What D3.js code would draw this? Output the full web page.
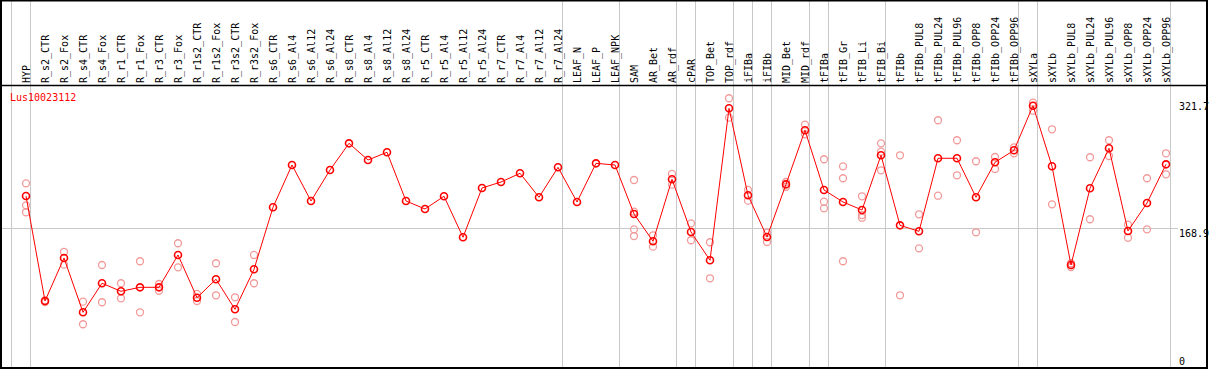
<!DOCTYPE html>
<html>
<head>
	<meta charset="utf-8">
	<title>Lus10023112</title>
	<script src="https://cdn.jsdelivr.net/npm/d3@7"></script>
	<style>
		body { margin: 0; background: #fff; }
		text { font-family: "DejaVu Sans Mono", monospace; font-size: 10px; }
	</style>
</head>
<body>
<div id="chart"></div>
<script type="text/javascript">
	let categories = ["HYP","R_s2_CTR","R_s2_Fox","R_s4_CTR","R_s4_Fox","R_r1_CTR","R_r1_Fox","R_r3_CTR","R_r3_Fox",
		"R_r1s2_CTR","R_r1s2_Fox","R_r3s2_CTR","R_r3s2_Fox","R_s6_CTR","R_s6_Al4","R_s6_Al12","R_s6_Al24",
		"R_s8_CTR","R_s8_Al4","R_s8_Al12","R_s8_Al24","R_r5_CTR","R_r5_Al4","R_r5_Al12","R_r5_Al24",
		"R_r7_CTR","R_r7_Al4","R_r7_Al12","R_r7_Al24","LEAF_N","LEAF_P","LEAF_NPK","SAM","AR_Bet","AR_rdf",
		"cPAR","TOP_Bet","TOP_rdf","iFIBa","iFIBb","MID_Bet","MID_rdf","tFIBa","tFIB_Gr","tFIB_Li","tFIB_Bi",
		"tFIBb","tFIBb_PUL8","tFIBb_PUL24","tFIBb_PUL96","tFIBb_OPP8","tFIBb_OPP24","tFIBb_OPP96",
		"sXYLa","sXYLb","sXYLb_PUL8","sXYLb_PUL24","sXYLb_PUL96","sXYLb_OPP8","sXYLb_OPP24","sXYLb_OPP96"];

	// mean per sample (the dark line)
	let means = [207.2,80.7,132.5,67.1,102.1,92.4,97.2,97.2,136.2,84.7,106.9,70.7,118.9,193.6,244.6,201.2,238.6,
		270.7,250.6,259.9,201.2,191.6,206.9,157.5,216.9,224.1,234.6,205.7,241.8,200.0,246.6,244.6,185.6,
		152.7,227.4,163.9,129.8,312.9,208.1,157.8,221.3,286.4,214.5,200.0,190.4,256.3,171.9,164.7,252.7,
		252.7,205.7,247.9,262.3,316.0,243.0,124.1,216.5,264.7,165.1,198.8,245.4];

	// single replicates (pale circles)
	let replicates = [[222.5,196.0,187.6],[81.3,79.5],[139.8,124.5],[79.9,52.7],[124.1,79.2],[102.1,84.0],
		[128.6,67.1],[101.2,93.1],[150.3,121.3],[89.2,80.7],[126.2,87.6],[85.2,55.4],[136.2,102.1],
		[],[],[],[],[],[],[],[],[],[],[],[],[],[],[],[],[],[],[],
		[226.5,188.3,167.1,159.0],[159.9,146.2],[233.8,220.9],[174.3,153.9],[151.5,108.1],[325.0,301.6],
		[214.5,201.6],[163.0,151.8],[224.1,218.4],[293.2,281.6],[251.5,200.4,192.4],[243.0,228.6,128.6],
		[206.9,184.3,181.1],[270.7,260.6,238.2],[256.3,87.6],[185.2,144.2],[298.5,207.6],[274.4,232.2],
		[249.1,163.5],[254.2,239.8],[265.9,258.7],[319.7,310.0],[287.6,197.2],[126.2,121.7],[253.9,179.2],
		[274.4,255.4],[172.7,157.0],[228.6,167.1],[258.7,233.4]];

	// groups start at these samples (gray vertical lines)
	let groupStarts = ["HYP","R_s2_CTR","LEAF_N","SAM","cPAR","TOP_Bet","iFIBa","iFIBb","MID_Bet",
		"tFIBa","tFIB_Gr","tFIBb","sXYLa","sXYLb"];
	let yTicks = [0, 168.9, 321.7];
	let gridValue = 168.9;
	let geneName = "Lus10023112";

	let W = 1209, H = 370;
	let svg = d3.select("#chart").append("svg").attr("width", W).attr("height", H);

	let x = d3.scaleBand().domain(categories).range([11, 1170]); // 19px per sample
	let y = d3.scaleLinear().domain([0, 321.7]).range([368, 101]);
	let px = d => x(d) + 15; // points sit to the right of the band centre

	// vertical group lines, full height
	let vlines = groupStarts.map(c => x(c)).concat([x.range()[1]]);
	svg.selectAll(".vgrid").data(vlines).enter().append("line")
		.attr("x1", d => d + 0.5).attr("x2", d => d + 0.5)
		.attr("y1", 0).attr("y2", 368)
		.attr("stroke", "#c8c8c8").attr("stroke-width", 1);

	// horizontal line
	svg.append("line")
		.attr("x1", 1).attr("x2", 1178)
		.attr("y1", Math.round(y(gridValue)) + 0.5).attr("y2", Math.round(y(gridValue)) + 0.5)
		.attr("stroke", "#c8c8c8");

	// header labels, rotated
	svg.selectAll(".lbl").data(categories).enter().append("text")
		.attr("transform", d => "translate(" + (x(d) + x.bandwidth()) + ",83) rotate(-90)")
		.attr("fill", "#000")
		.text(d => d);

	// header bottom + frame
	svg.append("line").attr("x1", 0).attr("x2", 1208).attr("y1", 85.5).attr("y2", 85.5)
		.attr("stroke", "#000").attr("stroke-width", 1.5);
	svg.append("rect").attr("x", 1).attr("y", 0.5).attr("width", 1206).attr("height", 367.5)
		.attr("fill", "none").attr("stroke", "#000").attr("stroke-width", 2);

	// gene name
	svg.append("text").attr("x", 10).attr("y", 101).attr("fill", "red").text(geneName);

	// y labels on the right
	svg.selectAll(".ylbl").data(yTicks).enter().append("text")
		.attr("x", 1179)
		.attr("y", d => Math.min(y(d) + 9, 365))
		.attr("fill", "#000")
		.text(d => d);

	// replicates
	let reps = [];
	categories.forEach((c, i) => replicates[i].forEach(v => reps.push({c: c, v: v})));
	svg.selectAll(".rep").data(reps).enter().append("circle")
		.attr("cx", d => px(d.c)).attr("cy", d => y(d.v)).attr("r", 3.5)
		.attr("fill", "none").attr("stroke", "#f29a9a").attr("stroke-width", 1.3);

	// mean line
	let line = d3.line().x((d, i) => px(categories[i])).y(d => y(d));
	svg.append("path").datum(means).attr("d", line)
		.attr("fill", "none").attr("stroke", "red").attr("stroke-width", 1);

	svg.selectAll(".mean").data(means).enter().append("circle")
		.attr("cx", (d, i) => px(categories[i])).attr("cy", d => y(d)).attr("r", 3.5)
		.attr("fill", "none").attr("stroke", "red").attr("stroke-width", 1.6);
</script>
</body>
</html>
